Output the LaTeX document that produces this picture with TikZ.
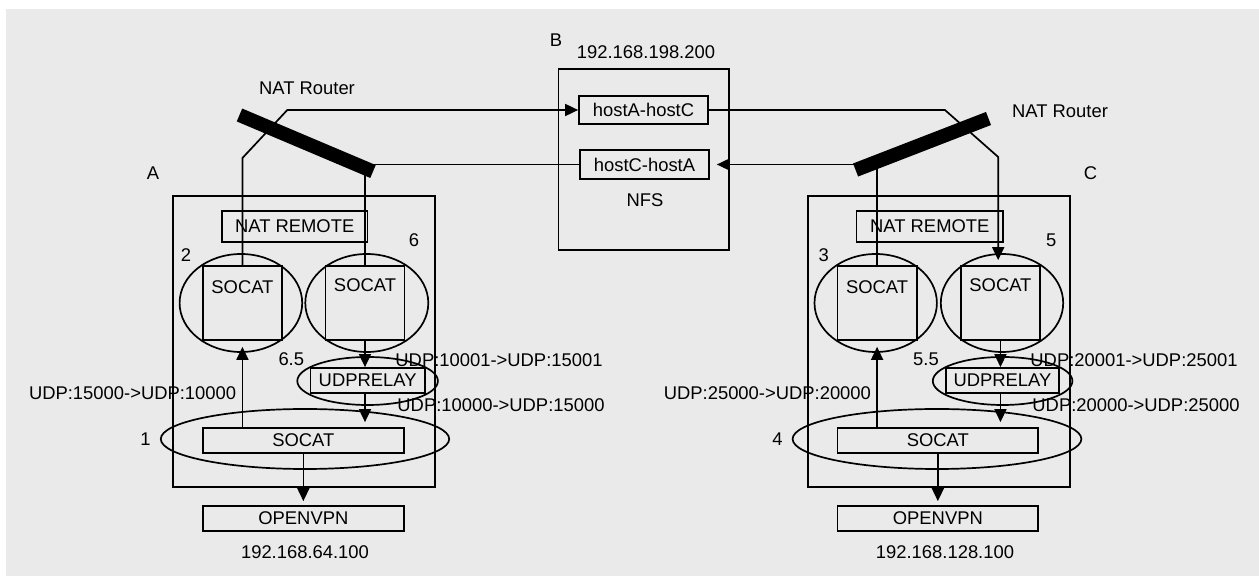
\documentclass[tikz,border=0pt]{standalone}
\usepackage{fontspec}
\setmainfont{Liberation Sans}
\usetikzlibrary{shapes.geometric,arrows.meta,calc}
\newcommand\dfont{\fontsize{9.2pt}{11pt}\selectfont}
\definecolor{bg}{HTML}{EAEAEA}
\tikzset{
  lw/.style={line width=0.85pt},
  box/.style={draw, rectangle, inner sep=0pt, lw},
  oval/.style={draw, ellipse, inner sep=0pt, lw},
  lbl/.style={inner sep=0pt},
  conn/.style={lw},
  arr/.style={lw, -{Triangle[length=6.5pt,width=6pt]}},
  bar/.style={line width=7pt},
}
\begin{document}
\begin{tikzpicture}[x=0.5pt,y=-0.5pt,font=\dfont]
\useasboundingbox (0,0) rectangle (1259,576);
\fill[bg] (6,9) rectangle (1259,576);

% ---------- B / NFS ----------
\node[box, minimum width=85.25pt, minimum height=90.5pt] (nfs) at (643.75,159.5) {};
\node[box, minimum width=64.5pt, minimum height=14pt] (hAC) at (643.5,110) {hostA-hostC};
\node[box, minimum width=64.5pt, minimum height=14.5pt] (hCA) at (644.5,164.5) {hostC-hostA};
\node[lbl] (nfsT) at (645,200) {NFS};
\node[lbl] (bT) at (556,40) {B};
\node[lbl] (ipB) at (646,52) {192.168.198.200};

% ---------- A ----------
\node[box, minimum width=131pt, minimum height=145.5pt] (boxA) at (303.75,341.5) {};
\node[lbl] (aT) at (153,173) {A};
\node[box, minimum width=72.9pt, minimum height=15.5pt] (nrA) at (294.7,226.5) {NAT REMOTE};
\node[oval, minimum width=61.3pt, minimum height=49pt] (eA2) at (240.9,303) {};
\node[box, minimum width=39.55pt, minimum height=37pt] (sA2) at (242.45,303) {};
\node[lbl] (sA2t) at (242.45,287) {SOCAT};
\node[oval, minimum width=61.5pt, minimum height=49pt] (eA6) at (366.8,303) {};
\node[box, minimum width=39.6pt, minimum height=37pt] (sA6) at (365,303) {};
\node[lbl] (sA6t) at (365,285) {SOCAT};
\node[oval, minimum width=70.3pt, minimum height=24pt] (euA) at (367.6,381) {};
\node[box, minimum width=57.05pt, minimum height=12.5pt] (uA) at (367.65,380.5) {UDPRELAY};
\node[oval, minimum width=144.2pt, minimum height=30pt] (ebA) at (305,439) {};
\node[box, minimum width=100.45pt, minimum height=12.5pt] (sAb) at (303.35,440.5) {SOCAT};
\node[box, minimum width=100.45pt, minimum height=12.5pt] (oA) at (303.35,518.5) {OPENVPN};
\node[lbl] (ipA) at (305,552) {192.168.64.100};
\node[lbl] (n2) at (186,255) {2};
\node[lbl] (n6) at (414,240) {6};
\node[lbl] (n65) at (291.3,359) {6.5};
\node[lbl] (n1) at (145.4,439) {1};
\node[lbl] (pA1) at (499,360) {UDP:10001->UDP:15001};
\node[lbl] (pA2) at (501,405) {UDP:10000->UDP:15000};
\node[lbl] (pA3) at (132.6,393) {UDP:15000->UDP:10000};
\node[lbl] (natA) at (307,88) {NAT Router};

% ---------- C ----------
\node[box, minimum width=131.15pt, minimum height=145.5pt] (boxC) at (938.85,341.5) {};
\node[lbl] (cT) at (1090.5,173) {C};
\node[box, minimum width=73.2pt, minimum height=15.5pt] (nrC) at (929.8,226.5) {NAT REMOTE};
\node[oval, minimum width=61.2pt, minimum height=49pt] (eC3) at (875.7,303) {};
\node[box, minimum width=39.7pt, minimum height=37pt] (sC3) at (877.1,303) {};
\node[lbl] (sC3t) at (877.1,287) {SOCAT};
\node[oval, minimum width=61.2pt, minimum height=49pt] (eC5) at (1002,303) {};
\node[box, minimum width=39.55pt, minimum height=37pt] (sC5) at (1000.45,303) {};
\node[lbl] (sC5t) at (1000.45,285) {SOCAT};
\node[oval, minimum width=69.8pt, minimum height=24pt] (euC) at (1002.6,381) {};
\node[box, minimum width=56.75pt, minimum height=12.5pt] (uC) at (1002.45,380.5) {UDPRELAY};
\node[oval, minimum width=144.4pt, minimum height=30pt] (ebC) at (937,439) {};
\node[box, minimum width=100.45pt, minimum height=12.5pt] (sCb) at (937.85,440.5) {SOCAT};
\node[box, minimum width=100.45pt, minimum height=12.5pt] (oC) at (937.85,518.5) {OPENVPN};
\node[lbl] (ipC) at (945,552) {192.168.128.100};
\node[lbl] (n3) at (823.7,255) {3};
\node[lbl] (n5) at (1051.2,240) {5};
\node[lbl] (n55) at (926,359) {5.5};
\node[lbl] (n4) at (777.6,439) {4};
\node[lbl] (pC1) at (1134,360) {UDP:20001->UDP:25001};
\node[lbl] (pC2) at (1136,405) {UDP:20000->UDP:25000};
\node[lbl] (pC3) at (767.4,393) {UDP:25000->UDP:20000};
\node[lbl] (natC) at (1060,111) {NAT Router};

% ---------- connectors ----------
\coordinate (a1) at (240.3,158);
\coordinate (a2) at (287.3,110);
\draw[arr] (sA2.north) -- (sA2.north |- a1) -- (a2) -- (hAC.west);
\draw[conn] (sA6.north) |- (hCA.west);
\coordinate (c1) at (944.9,110);
\coordinate (c2) at (998.2,157);
\draw[arr, shorten >=2.5pt] (hAC.east) -- (c1) -- (c2) -- (c2 |- sC5.north);
\draw[arr, shorten >=3.5pt] (sC3.north) |- (hCA.east);

\draw[arr, shorten >=3pt] (sAb.north -| sA2.south) -- (sA2.south);
\draw[arr] (sA6.south) -- (sA6.south |- uA.north);
\draw[arr, shorten >=2.5pt] (uA.south -| sA6.south) -- (sAb.north -| sA6.south);
\draw[arr, shorten >=2pt] (sAb.south) -- (oA.north);

\draw[arr, shorten >=3pt] (sCb.north -| sC3.south) -- (sC3.south);
\draw[arr] (sC5.south) -- (sC5.south |- uC.north);
\draw[arr, shorten >=2.5pt] (uC.south -| sC5.south) -- (sCb.north -| sC5.south);
\draw[arr, shorten >=2pt] (sCb.south) -- (oC.north);

% ---------- NAT routers ----------
\coordinate (barA1) at (239.5,115);
\coordinate (barA2) at (373,171.5);
\coordinate (barC1) at (855.6,170);
\coordinate (barC2) at (988.5,118.5);
\draw[bar] (barA1) -- (barA2);
\draw[bar] (barC1) -- (barC2);
\end{tikzpicture}
\end{document}
